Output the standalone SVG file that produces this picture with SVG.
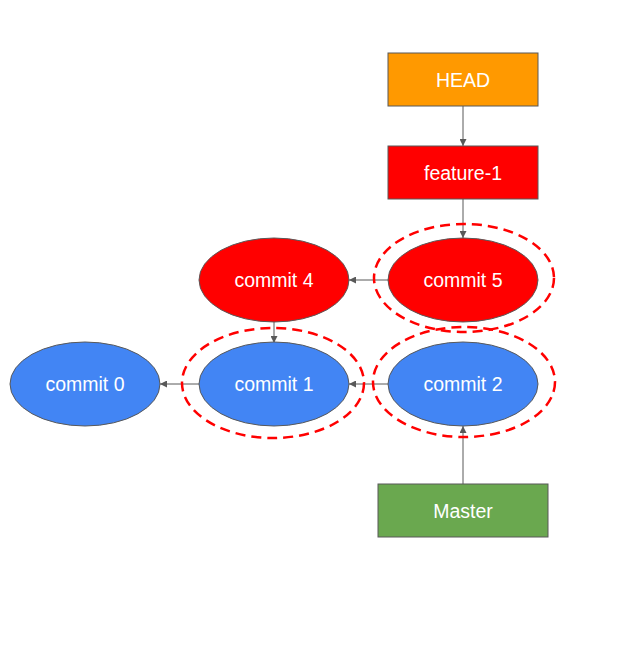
<svg xmlns="http://www.w3.org/2000/svg" width="627" height="663" viewBox="0 0 627 663">
<style>
.n{stroke:#595959;stroke-width:1}
.t{font-family:"Liberation Sans",Arial,sans-serif;font-size:19.5px;fill:#ffffff;text-anchor:middle;dominant-baseline:central}
.c{stroke:#595959;stroke-width:1;fill:none;marker-end:url(#a)}
.d{fill:none;stroke:#ff0000;stroke-width:2.5;stroke-dasharray:10,6}
</style>
<defs>
<marker id="a" viewBox="0 0 10 10" refX="10" refY="5" markerWidth="7" markerHeight="7" markerUnits="userSpaceOnUse" orient="auto">
<path d="M0,0 L10,5 L0,10 z" fill="#595959"/>
</marker>
</defs>
<rect width="627" height="663" fill="#ffffff"/>
<g id="connectors">
<line class="c" x1="463" y1="106" x2="463" y2="146"/>
<line class="c" x1="463" y1="199" x2="463" y2="238"/>
<line class="c" x1="388" y1="280" x2="349" y2="280"/>
<line class="c" x1="274" y1="322" x2="274" y2="343"/>
<line class="c" x1="388" y1="384" x2="349" y2="384"/>
<line class="c" x1="199" y1="384" x2="160" y2="384"/>
<line class="c" x1="463" y1="484" x2="463" y2="426"/>
</g>
<g id="head"><rect class="n" x="388" y="53" width="150" height="53" fill="#ff9900"/><text class="t" x="463" y="80">HEAD</text></g>
<g id="feature-1"><rect class="n" x="388" y="146" width="150" height="53" fill="#ff0000"/><text class="t" x="463" y="173">feature-1</text></g>
<g id="commit4"><ellipse class="n" cx="274" cy="280" rx="75" ry="42" fill="#ff0000"/><text class="t" x="274" y="280">commit 4</text></g>
<g id="commit5"><ellipse class="n" cx="463" cy="280" rx="75" ry="42" fill="#ff0000"/><text class="t" x="463" y="280">commit 5</text></g>
<g id="commit0"><ellipse class="n" cx="85" cy="384" rx="75" ry="42" fill="#4285f4"/><text class="t" x="85" y="384">commit 0</text></g>
<g id="commit1"><ellipse class="n" cx="274" cy="384" rx="75" ry="42" fill="#4285f4"/><text class="t" x="274" y="384">commit 1</text></g>
<g id="commit2"><ellipse class="n" cx="463" cy="384" rx="75" ry="42" fill="#4285f4"/><text class="t" x="463" y="384">commit 2</text></g>
<g id="master"><rect class="n" x="378" y="484" width="170" height="53" fill="#6aa84f"/><text class="t" x="463" y="511">Master</text></g>
<g id="highlights">
<ellipse class="d" cx="464" cy="278" rx="90" ry="54"/>
<ellipse class="d" cx="273" cy="383" rx="91" ry="55"/>
<ellipse class="d" cx="464" cy="382" rx="91" ry="55"/>
</g>
</svg>
